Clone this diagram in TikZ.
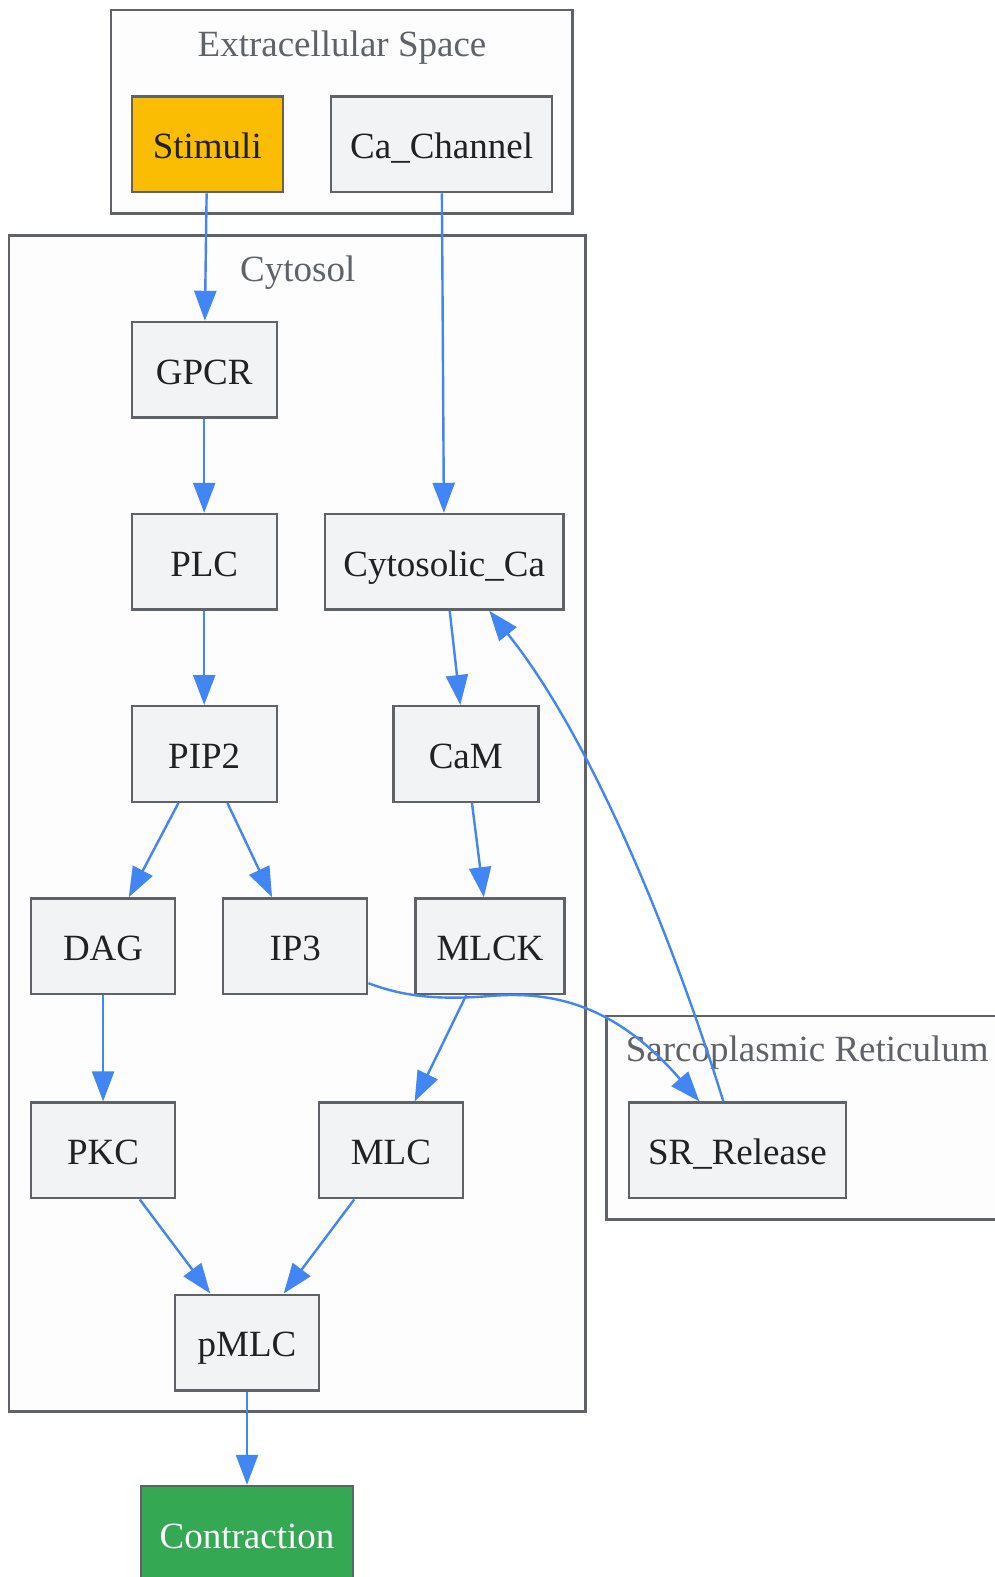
\documentclass[tikz,border=0pt]{standalone}
\usepackage{fontspec}
\setmainfont{Liberation Serif}
\usetikzlibrary{arrows.meta,calc}
\definecolor{bord}{HTML}{5F6368}
\definecolor{nfill}{HTML}{F1F3F4}
\definecolor{edge}{HTML}{4285F4}
\definecolor{ntext}{HTML}{202124}
\definecolor{stimc}{HTML}{FBBC04}
\definecolor{contc}{HTML}{34A853}
\definecolor{clfill}{HTML}{FDFDFD}
\tikzset{
  box/.style={draw=bord, line width=2.4pt, fill=nfill, text=ntext, minimum height=95.6pt, inner sep=0pt,
    text height=36pt, text depth=7.6pt, font=\fontsize{37}{44}\selectfont},
  cluster/.style={draw=bord, line width=2.4pt, fill=clfill},
  cllabel/.style={text=bord, inner sep=0pt, anchor=base, font=\fontsize{37}{44}\selectfont},
  conn/.style={draw=edge, line width=2.4pt, -{Triangle[length=30pt,width=22pt]}},
}
\begin{document}
\begin{tikzpicture}[x=1pt,y=-1pt]
\useasboundingbox (0,0) rectangle (995,1577);
% clusters
\draw[cluster] (110.7,10) rectangle (572.4,213.3);
\draw[cluster] (9,235.4) rectangle (585.5,1411.4);
\draw[cluster] (606.6,1016) rectangle (1010,1219.3);
\node[cllabel] (lext) at (342,56) {Extracellular Space};
\node[cllabel] (lcyt) at (297.8,281.7) {Cytosol};
\node[cllabel, anchor=base west] (lsr) at (625.7,1061.7) {Sarcoplasmic Reticulum};
% nodes
\node[box, fill=stimc, minimum width=151pt] (stim) at (207.3,144.4) {Stimuli};
\node[box, minimum width=221.3pt] (cach) at (441.6,144.4) {Ca\_Channel};
\node[box, minimum width=145pt] (gpcr) at (204.2,369.8) {GPCR};
\node[box, minimum width=145pt] (plc) at (204.2,561.8) {PLC};
\node[box, minimum width=238.4pt] (cyca) at (444.2,561.8) {Cytosolic\_Ca};
\node[box, minimum width=145pt] (pip2) at (204.2,754) {PIP2};
\node[box, minimum width=145pt] (cam) at (465.8,754) {CaM};
\node[box, minimum width=143.8pt] (dag) at (103.1,946.2) {DAG};
\node[box, minimum width=144pt] (ip3) at (295.2,946.2) {IP3};
\node[box, minimum width=149pt] (mlck) at (490,946.2) {MLCK};
\node[box, minimum width=144pt] (pkc) at (103.1,1150.4) {PKC};
\node[box, minimum width=144pt] (mlc) at (390.9,1150.4) {MLC};
\node[box, minimum width=217pt] (sr) at (737.4,1150.4) {SR\_Release};
\node[box, minimum width=144pt] (pmlc) at (247,1342.5) {pMLC};
\node[box, fill=contc, text=white, minimum width=212.3pt] (contr) at (247,1533.8) {Contraction};
% edges
\draw[conn] (stim) -- (gpcr);
\draw[conn] (cach) -- (cyca);
\draw[conn] (gpcr) -- (plc);
\draw[conn] (plc) -- (pip2);
\draw[conn] (cyca) -- (cam);
\draw[conn] (cam) -- (mlck);
\draw[conn] (pip2) -- (dag);
\draw[conn] (pip2) -- (ip3);
\draw[conn] (dag) -- (pkc);
\draw[conn] (mlck) -- (mlc);
\draw[conn] (pkc) -- (pmlc);
\draw[conn] (mlc) -- (pmlc);
\draw[conn] (pmlc) -- (contr);
\coordinate (ipS) at ($(ip3.south east)+(0,-12)$);
\coordinate (srT) at ($(sr.north)+(-38,0)$);
\draw[conn] (ipS) .. controls (405,997) and (440,1000) .. (490,996)
  .. controls (560,990) and (620,1010) .. (srT);
\coordinate (srS) at ($(sr.north)+(-14,0)$);
\coordinate (cyB) at ($(cyca.south)+(45,0)$);
\draw[conn] (srS) .. controls (665,915) and (585,730) .. (cyB);
\end{tikzpicture}
\end{document}
